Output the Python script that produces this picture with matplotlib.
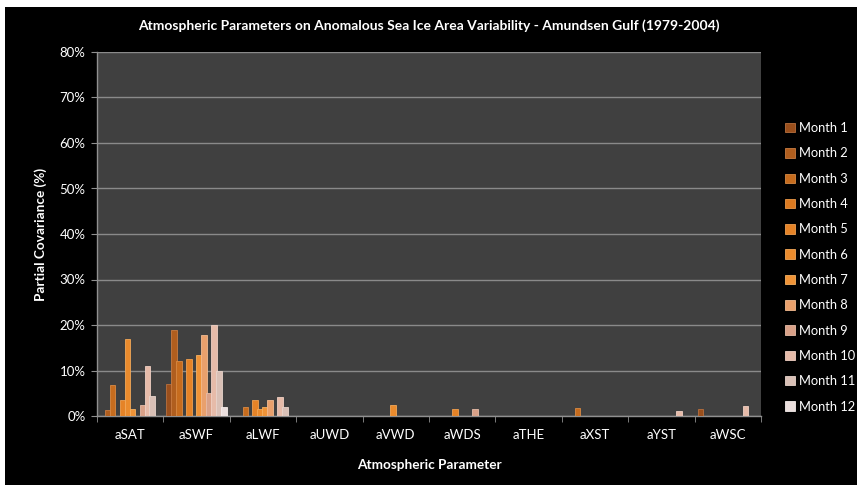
import numpy as np
import matplotlib
matplotlib.use("Agg")
import matplotlib.pyplot as plt
from matplotlib.patches import Rectangle
from matplotlib.ticker import FuncFormatter, FixedLocator

plt.rcParams["font.family"] = ["Lato", "DejaVu Sans"]

categories = ["aSAT", "aSWF", "aLWF", "aUWD", "aVWD", "aWDS", "aTHE", "aXST", "aYST", "aWSC"]
months = ["Month %d" % i for i in range(1, 13)]

# partial covariance (%) per month, one value per category
month1 = [0, 7.0, 0, 0, 0, 0, 0, 0, 0, 1.6]
month2 = [1.3, 19.0, 0, 0, 0, 0, 0, 0, 0, 0]
month3 = [6.8, 12.0, 2.0, 0, 0, 0, 0, 1.7, 0, 0]
month4 = [0, 0, 0, 0, 0, 0, 0, 0, 0, 0]
month5 = [3.6, 12.5, 3.5, 0, 0, 1.5, 0, 0, 0, 0]
month6 = [17.0, 0, 1.6, 0, 2.4, 0, 0, 0, 0, 0]
month7 = [1.6, 13.3, 1.9, 0, 0, 0, 0, 0, 0, 0]
month8 = [0, 17.8, 3.6, 0, 0, 0, 0, 0, 0, 0]
month9 = [2.4, 5.0, 0, 0, 0, 1.5, 0, 0, 0, 0]
month10 = [11.0, 20.0, 4.1, 0, 0, 0, 0, 0, 1.2, 2.2]
month11 = [4.4, 9.8, 1.9, 0, 0, 0, 0, 0, 0, 0]
month12 = [0, 1.9, 0, 0, 0, 0, 0, 0, 0, 0]
series = [month1, month2, month3, month4, month5, month6,
          month7, month8, month9, month10, month11, month12]

colors = ["#9a4f1c", "#b05e1e", "#c66c1e", "#dc7a20", "#e58327", "#ea8b2d",
          "#ef9337", "#e9a06c", "#d9a188", "#e6bba9", "#d9c0b6", "#ebdfdd"]
edges = ["#b8703f", "#c97c42", "#d88a44", "#eb9848", "#f0a050", "#f3a858",
         "#f6b060", "#f2bb90", "#e6bca8", "#f0d0c4", "#e8d4cc", "#f6eeec"]

W, H = 865, 490
fig = plt.figure(figsize=(W / 100, H / 100), dpi=100, facecolor="white")
fig.patches.append(Rectangle((5 / W, 5 / H), 852 / W, 478 / H, transform=fig.transFigure,
                             facecolor="black", edgecolor="none", zorder=-10))

ax = fig.add_axes([96.7 / W, 74 / H, 664.5 / W, 364 / H])
ax.set_facecolor("#404040")

x = np.arange(len(categories))
slot = 0.9 / 12
for i, vals in enumerate(series):
    pos = x - 0.45 + slot * (i + 0.5)
    ax.bar(pos, np.array(vals) / 100, width=slot * 1.15, color=colors[i],
           edgecolor=edges[i], linewidth=0.6, label=months[i], zorder=3)

ax.set_xlim(-0.5, len(categories) - 0.5)
ax.set_ylim(0, 0.8)
ax.set_yticks(np.arange(0, 0.81, 0.1))
ax.yaxis.set_major_formatter(FuncFormatter(lambda v, p: "%d%%" % round(v * 100)))
ax.set_xticks(x)
ax.set_xticklabels(categories)
ax.xaxis.set_minor_locator(FixedLocator(np.arange(-0.5, len(categories), 1.0)))
ax.tick_params(axis="x", which="major", length=0, colors="white", labelsize=9.5, pad=9)
ax.tick_params(axis="x", which="minor", length=4, color="#909090")
ax.tick_params(axis="y", length=4, color="#909090", labelcolor="white", labelsize=9.5, pad=4)
ax.grid(axis="y", color="#8a8a8a", linewidth=1.0, zorder=1)
for s in ["top", "right"]:
    ax.spines[s].set_visible(False)
for s in ["left", "bottom"]:
    ax.spines[s].set_color("#909090")
    ax.spines[s].set_linewidth(1.0)

ax.set_title("Atmospheric Parameters on Anomalous Sea Ice Area Variability - Amundsen Gulf (1979-2004)",
             color="white", fontsize=10, fontweight="bold", pad=16)
ax.set_xlabel("Atmospheric Parameter", color="white", fontsize=9.8, fontweight="bold", labelpad=13)
ax.set_ylabel("Partial Covariance (%)", color="white", fontsize=9.8, fontweight="bold", labelpad=9)

leg = ax.legend(loc="upper left", bbox_to_anchor=(780 / W, 1 - 117 / H), bbox_transform=fig.transFigure,
                frameon=False, fontsize=9.3, handlelength=0.75, handleheight=0.75,
                handletextpad=0.3, labelspacing=1.03, borderaxespad=0)
for t in leg.get_texts():
    t.set_color("white")

fig.savefig("out.png", dpi=100, facecolor=fig.get_facecolor())
